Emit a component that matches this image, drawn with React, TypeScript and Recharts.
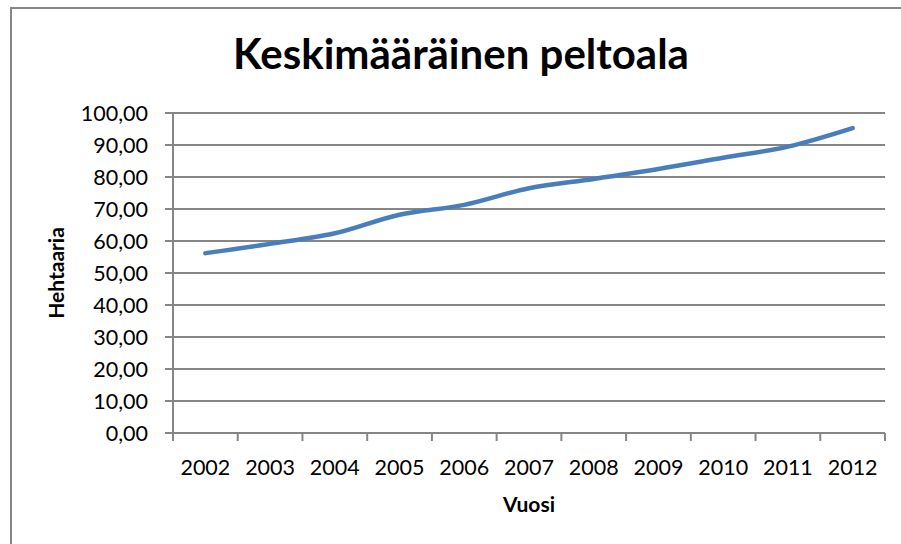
import { CartesianGrid, Label, Line, LineChart, XAxis, YAxis } from "recharts";

const years = ["2002", "2003", "2004", "2005", "2006", "2007", "2008", "2009", "2010", "2011", "2012"];
const hectares = [56.2, 59.1, 62.4, 68.2, 71.3, 76.5, 79.4, 82.5, 86.0, 89.5, 95.3];
const yTicks = [0, 10, 20, 30, 40, 50, 60, 70, 80, 90, 100];

const data = years.map((year, i) => ({ year, value: hectares[i] }));

const W = 901;
const H = 544;
const margin = { top: 113, right: 16, bottom: 0, left: 0 };
const yAxisWidth = 173;
const xAxisHeight = 111;
const band = (W - margin.left - margin.right - yAxisWidth) / years.length;

const gray = "#868686";
const font = "Lato, 'Open Sans', sans-serif";
const tickSize = 8;
const xTickMargin = 19;

function YearTick(props: any) {
	const { x, y, payload, index } = props;
	const top = y - xTickMargin - tickSize;
	const bottom = y - xTickMargin;
	return (
		<g>
			<line x1={x - band / 2} x2={x - band / 2} y1={top} y2={bottom} stroke={gray} strokeWidth={2} />
			{index === years.length - 1 && (
				<line x1={x + band / 2} x2={x + band / 2} y1={top} y2={bottom} stroke={gray} strokeWidth={2} />
			)}
			<text x={x} y={y} dy="0.71em" textAnchor="middle" fontSize={21.5} fontFamily={font} fill="#000">
				{payload.value}
			</text>
		</g>
	);
}

export default function App() {
	return (
		<div style={{ position: "absolute", left: 0, top: 0, width: W, height: H, background: "#fff", overflow: "hidden" }}>
			<div
				style={{
					position: "absolute",
					left: 10,
					top: 7,
					width: W,
					height: H,
					border: `2px solid ${gray}`,
					boxSizing: "border-box",
				}}
			/>
			<div
				style={{
					position: "absolute",
					left: 0,
					width: 922,
					top: 28,
					lineHeight: "50px",
					textAlign: "center",
					fontFamily: font,
					fontWeight: "bold",
					fontSize: 42,
					color: "#000",
				}}
			>
				Keskimääräinen peltoala
			</div>
			<LineChart width={W} height={H} data={data} margin={margin} style={{ position: "absolute", left: 0, top: 0 }}>
				<CartesianGrid vertical={false} stroke={gray} strokeWidth={2} />
				<XAxis
					dataKey="year"
					height={xAxisHeight}
					padding={{ left: band / 2, right: band / 2 }}
					tickLine={false}
					tickSize={tickSize}
					tickMargin={xTickMargin}
					axisLine={{ stroke: gray, strokeWidth: 2 }}
					tick={<YearTick />}
					interval={0}
				>
					<Label
						value="Vuosi"
						content={({ viewBox }: any) => (
							<text
								x={viewBox.x + viewBox.width / 2}
								y={512}
								textAnchor="middle"
								fontFamily={font}
								fontWeight="bold"
								fontSize={21}
								fill="#000"
							>
								Vuosi
							</text>
						)}
					/>
				</XAxis>
				<YAxis
					width={yAxisWidth}
					domain={[0, 100]}
					ticks={yTicks}
					interval={0}
					tickSize={tickSize}
					tickMargin={17}
					tickLine={{ stroke: gray, strokeWidth: 2 }}
					axisLine={{ stroke: gray, strokeWidth: 2 }}
					tick={{ fill: "#000", fontSize: 21.5, fontFamily: font }}
					tickFormatter={(v: number) => v.toFixed(2).replace(".", ",")}
				>
					<Label
						value="Hehtaaria"
						content={({ viewBox }: any) => {
							const cy = viewBox.y + viewBox.height / 2;
							return (
								<text
									x={64}
									y={cy}
									transform={`rotate(-90, 64, ${cy})`}
									textAnchor="middle"
									fontFamily={font}
									fontWeight="bold"
									fontSize={21}
									fill="#000"
								>
									Hehtaaria
								</text>
							);
						}}
					/>
				</YAxis>
				<Line
					type="monotone"
					dataKey="value"
					stroke="#4a7ebb"
					strokeWidth={4.5}
					strokeLinecap="round"
					dot={false}
					activeDot={false}
					isAnimationActive={false}
				/>
			</LineChart>
		</div>
	);
}
